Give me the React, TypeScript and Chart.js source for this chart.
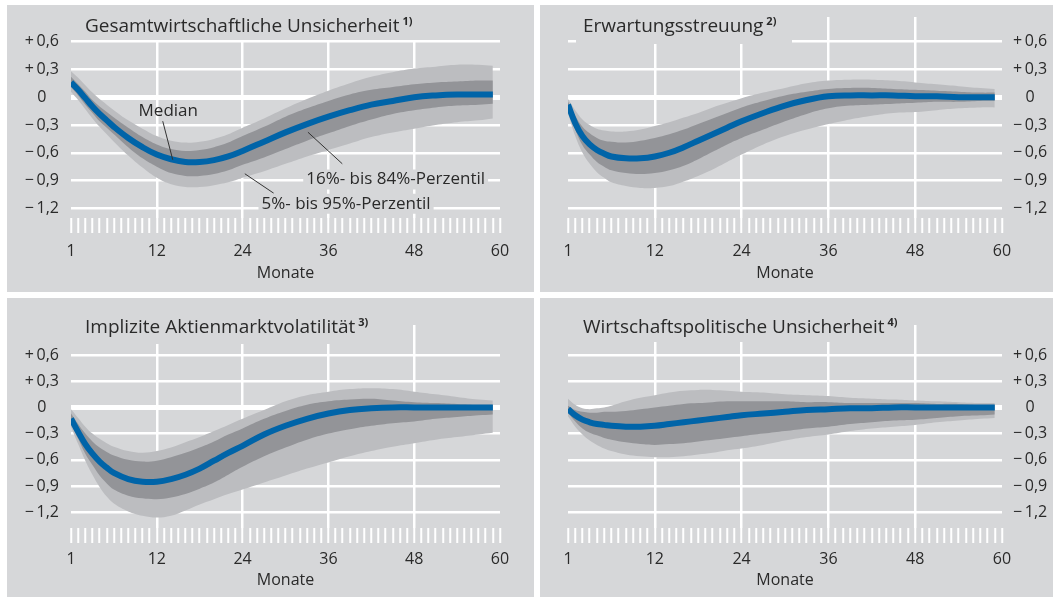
import React, { useEffect, useRef } from "react";
import { Chart, registerables } from "chart.js";

Chart.register(...registerables);

const FONT = "'Open Sans', 'Noto Sans', sans-serif";
const PANEL_BG = "#d6d7d9";
const LIGHT = "#bcbdc0";
const DARK = "#939498";
const BLUE = "#0064a8";
const TEXT = "#2a2a2a";

// horizon (months after shock, axis position 0 = month "1")
const steps = [0, 1, 2, 3, 4, 5, 6, 8, 10, 12, 14, 16, 18, 20, 22, 24, 27, 30, 33, 36, 39, 42, 45, 48, 51, 54, 57, 59];

const xTickValues = [0, 12, 24, 36, 48, 60];
const xTickLabels = ["1", "12", "24", "36", "48", "60"];
const yTickValues = [-1.2, -0.9, -0.6, -0.3, 0, 0.3, 0.6];
const yTickLabels = ["\u2212\u20091,2", "\u2212\u20090,9", "\u2212\u20090,6", "\u2212\u20090,3", "0", "+\u20090,3", "+\u20090,6"];

// 1) Gesamtwirtschaftliche Unsicherheit
const gesamtP95 = [0.28, 0.21, 0.13, 0.05, -0.02, -0.08, -0.14, -0.25, -0.34, -0.42, -0.47, -0.49, -0.48, -0.45, -0.40, -0.33, -0.23, -0.12, -0.02, 0.07, 0.15, 0.22, 0.27, 0.31, 0.33, 0.35, 0.35, 0.34];
const gesamtP84 = [0.22, 0.14, 0.06, -0.03, -0.10, -0.16, -0.22, -0.33, -0.43, -0.51, -0.56, -0.58, -0.57, -0.54, -0.49, -0.42, -0.32, -0.21, -0.12, -0.04, 0.03, 0.08, 0.11, 0.14, 0.16, 0.17, 0.18, 0.18];
const gesamtMedian = [0.16, 0.08, -0.01, -0.10, -0.18, -0.25, -0.32, -0.44, -0.54, -0.62, -0.67, -0.70, -0.70, -0.68, -0.64, -0.58, -0.48, -0.38, -0.29, -0.21, -0.14, -0.08, -0.04, 0.0, 0.02, 0.03, 0.03, 0.03];
const gesamtP16 = [0.11, 0.02, -0.08, -0.17, -0.26, -0.33, -0.40, -0.54, -0.66, -0.75, -0.82, -0.85, -0.85, -0.83, -0.79, -0.73, -0.65, -0.56, -0.47, -0.39, -0.31, -0.24, -0.18, -0.14, -0.11, -0.09, -0.08, -0.07];
const gesamtP5 = [0.06, -0.03, -0.13, -0.23, -0.32, -0.40, -0.48, -0.63, -0.76, -0.87, -0.94, -0.97, -0.97, -0.95, -0.92, -0.87, -0.80, -0.72, -0.64, -0.57, -0.50, -0.43, -0.38, -0.34, -0.30, -0.27, -0.25, -0.23];

// 2) Erwartungsstreuung
const streuP95 = [-0.02, -0.14, -0.24, -0.30, -0.34, -0.36, -0.37, -0.37, -0.35, -0.31, -0.27, -0.22, -0.17, -0.11, -0.06, -0.01, 0.05, 0.10, 0.15, 0.18, 0.19, 0.19, 0.18, 0.16, 0.14, 0.12, 0.10, 0.09];
const streuP84 = [-0.05, -0.20, -0.32, -0.39, -0.44, -0.47, -0.48, -0.49, -0.47, -0.44, -0.40, -0.35, -0.29, -0.23, -0.17, -0.11, -0.04, 0.02, 0.06, 0.09, 0.10, 0.10, 0.09, 0.08, 0.07, 0.06, 0.05, 0.05];
const streuMedian = [-0.08, -0.28, -0.42, -0.51, -0.57, -0.61, -0.64, -0.66, -0.66, -0.64, -0.60, -0.54, -0.47, -0.40, -0.33, -0.26, -0.17, -0.09, -0.03, 0.01, 0.02, 0.02, 0.02, 0.01, 0.01, 0.0, 0.0, 0.0];
const streuP16 = [-0.13, -0.35, -0.52, -0.62, -0.70, -0.75, -0.79, -0.82, -0.83, -0.82, -0.79, -0.74, -0.67, -0.59, -0.51, -0.44, -0.35, -0.26, -0.18, -0.12, -0.09, -0.08, -0.07, -0.06, -0.05, -0.05, -0.04, -0.04];
const streuP5 = [-0.17, -0.42, -0.60, -0.72, -0.81, -0.87, -0.92, -0.96, -0.98, -0.98, -0.96, -0.91, -0.85, -0.78, -0.70, -0.62, -0.51, -0.42, -0.35, -0.29, -0.24, -0.20, -0.17, -0.16, -0.14, -0.12, -0.11, -0.11];

// 3) Implizite Aktienmarktvolatilität
const volaP95 = [-0.02, -0.12, -0.22, -0.30, -0.36, -0.41, -0.45, -0.50, -0.52, -0.50, -0.46, -0.40, -0.34, -0.27, -0.20, -0.13, -0.03, 0.07, 0.14, 0.18, 0.21, 0.22, 0.21, 0.18, 0.15, 0.12, 0.09, 0.08];
const volaP84 = [-0.07, -0.19, -0.30, -0.39, -0.46, -0.51, -0.55, -0.60, -0.62, -0.61, -0.57, -0.52, -0.46, -0.39, -0.31, -0.24, -0.13, -0.04, 0.03, 0.07, 0.09, 0.10, 0.08, 0.06, 0.05, 0.04, 0.03, 0.03];
const volaMedian = [-0.13, -0.28, -0.42, -0.53, -0.62, -0.69, -0.75, -0.82, -0.85, -0.85, -0.82, -0.77, -0.70, -0.61, -0.52, -0.44, -0.31, -0.21, -0.13, -0.07, -0.03, -0.01, 0.0, 0.0, 0.0, 0.0, 0.0, 0.0];
const volaP16 = [-0.18, -0.36, -0.53, -0.66, -0.78, -0.87, -0.94, -1.01, -1.04, -1.05, -1.03, -0.99, -0.93, -0.86, -0.77, -0.68, -0.56, -0.46, -0.37, -0.30, -0.25, -0.21, -0.18, -0.16, -0.13, -0.11, -0.09, -0.08];
const volaP5 = [-0.22, -0.42, -0.61, -0.77, -0.91, -1.02, -1.10, -1.19, -1.24, -1.26, -1.24, -1.18, -1.11, -1.05, -0.99, -0.94, -0.86, -0.78, -0.70, -0.63, -0.56, -0.50, -0.45, -0.41, -0.37, -0.34, -0.31, -0.29];

// 4) Wirtschaftspolitische Unsicherheit
const politP95 = [0.10, 0.03, -0.01, -0.02, -0.01, 0.0, 0.02, 0.07, 0.11, 0.14, 0.17, 0.19, 0.20, 0.20, 0.19, 0.18, 0.17, 0.15, 0.14, 0.13, 0.11, 0.10, 0.09, 0.08, 0.07, 0.06, 0.05, 0.05];
const politP84 = [0.02, -0.03, -0.05, -0.06, -0.06, -0.05, -0.05, -0.04, -0.02, 0.0, 0.02, 0.04, 0.05, 0.06, 0.07, 0.07, 0.07, 0.07, 0.06, 0.06, 0.05, 0.05, 0.05, 0.05, 0.04, 0.04, 0.03, 0.03];
const politMedian = [-0.02, -0.09, -0.14, -0.17, -0.19, -0.20, -0.21, -0.22, -0.22, -0.21, -0.19, -0.17, -0.15, -0.13, -0.11, -0.09, -0.07, -0.05, -0.03, -0.02, -0.01, -0.01, 0.0, 0.0, 0.0, 0.0, 0.0, 0.0];
const politP16 = [-0.06, -0.16, -0.24, -0.29, -0.32, -0.35, -0.37, -0.40, -0.42, -0.43, -0.42, -0.41, -0.39, -0.37, -0.35, -0.33, -0.30, -0.27, -0.24, -0.22, -0.19, -0.17, -0.15, -0.14, -0.12, -0.10, -0.09, -0.08];
const politP5 = [-0.10, -0.22, -0.31, -0.38, -0.43, -0.47, -0.50, -0.54, -0.56, -0.57, -0.57, -0.56, -0.54, -0.52, -0.49, -0.47, -0.43, -0.38, -0.34, -0.31, -0.27, -0.24, -0.22, -0.20, -0.17, -0.15, -0.13, -0.12];

// annotations of the first panel (data coordinates)
const notes1 = [
  { text: "Median", x: 13.6, y: -0.155, align: "center", box: false, line: [12.83, -0.259, 14.23, -0.676] },
  { text: "16%- bis 84%-Perzentil", x: 32.9, y: -0.889, align: "left", box: true, line: [33.14, -0.378, 37.94, -0.719] },
  { text: "5%- bis 95%-Perzentil", x: 26.64, y: -1.151, align: "left", box: true, line: [24.31, -0.827, 28.35, -1.037] },
];

const monthMarks = Array.from({ length: 61 }, (_, i) => i);

const toXY = (arr: number[]) => arr.map((v, i) => ({ x: steps[i], y: v }));

const decorPlugin = {
  id: "decor",
  afterDraw(chart: any) {
    const o = chart.options.plugins.decor;
    if (!o) return;
    const ctx = chart.ctx as CanvasRenderingContext2D;
    ctx.save();
    ctx.font = `19px ${FONT}`;
    const w = ctx.measureText(o.title).width;
    ctx.font = `bold 11px ${FONT}`;
    const sw = ctx.measureText(o.sup).width;
    const x0 = o.titleX - 7;
    const x1 = Math.max(o.titleX + w + 3 + sw + 5, o.boxRight);
    ctx.fillStyle = PANEL_BG;
    ctx.fillRect(x0, 0, x1 - x0, o.boxBottom);
    ctx.fillStyle = TEXT;
    ctx.textAlign = "left";
    ctx.textBaseline = "alphabetic";
    ctx.font = `19px ${FONT}`;
    ctx.fillText(o.title, o.titleX, o.titleBaseline);
    ctx.font = `bold 11px ${FONT}`;
    ctx.fillText(o.sup, o.titleX + w + 3, o.titleBaseline - 7);

    const xs = chart.scales.x;
    const ys = chart.scales.y;
    for (const n of o.notes || []) {
      const [a, b, c, d] = n.line;
      ctx.strokeStyle = "#333";
      ctx.lineWidth = 1;
      ctx.beginPath();
      ctx.moveTo(xs.getPixelForValue(a), ys.getPixelForValue(b));
      ctx.lineTo(xs.getPixelForValue(c), ys.getPixelForValue(d));
      ctx.stroke();
      ctx.font = `17px ${FONT}`;
      const tw = ctx.measureText(n.text).width;
      const px = xs.getPixelForValue(n.x);
      const py = ys.getPixelForValue(n.y);
      const left = n.align === "center" ? px - tw / 2 : px;
      if (n.box) {
        ctx.fillStyle = PANEL_BG;
        ctx.fillRect(left - 3, py - 10, tw + 6, 20);
      }
      ctx.fillStyle = TEXT;
      ctx.textAlign = "left";
      ctx.textBaseline = "middle";
      ctx.fillText(n.text, left, py);
    }
    ctx.restore();
  },
};

type PanelCfg = {
  left: number; top: number; width: number; height: number;
  side: "left" | "right";
  padTop: number; padLeft: number; padRight: number;
  xAxisH: number; yAxisW: number; yMin: number; yMax: number;
  tickPad: number; titlePadBottom: number; yTickPad: number;
  title: string; sup: string; titleX: number; titleBaseline: number;
  boxBottom: number; boxRight: number;
  p95: number[]; p84: number[]; med: number[]; p16: number[]; p5: number[];
  notes: any[];
};

const panels: PanelCfg[] = [
  {
    left: 7, top: 5, width: 527, height: 287, side: "left",
    padTop: 12, padLeft: 0, padRight: 34, xAxisH: 74, yAxisW: 64, yMin: -1.305, yMax: 0.867,
    tickPad: 9, titlePadBottom: 9, yTickPad: 12,
    title: "Gesamtwirtschaftliche Unsicherheit", sup: "1)", titleX: 78, titleBaseline: 27,
    boxBottom: 35, boxRight: 423,
    p95: gesamtP95, p84: gesamtP84, med: gesamtMedian, p16: gesamtP16, p5: gesamtP5, notes: notes1,
  },
  {
    left: 540, top: 5, width: 513, height: 287, side: "right",
    padTop: 12, padLeft: 28, padRight: 0, xAxisH: 74, yAxisW: 51, yMin: -1.305, yMax: 0.867,
    tickPad: 9, titlePadBottom: 9, yTickPad: 11,
    title: "Erwartungsstreuung", sup: "2)", titleX: 43, titleBaseline: 27,
    boxBottom: 39, boxRight: 252,
    p95: streuP95, p84: streuP84, med: streuMedian, p16: streuP16, p5: streuP5, notes: [],
  },
  {
    left: 7, top: 298, width: 527, height: 299, side: "left",
    padTop: 27, padLeft: 0, padRight: 34, xAxisH: 69, yAxisW: 64, yMin: -1.38, yMax: 0.943,
    tickPad: 7, titlePadBottom: 7, yTickPad: 12,
    title: "Implizite Aktienmarktvolatilität", sup: "3)", titleX: 78, titleBaseline: 35,
    boxBottom: 46, boxRight: 378,
    p95: volaP95, p84: volaP84, med: volaMedian, p16: volaP16, p5: volaP5, notes: [],
  },
  {
    left: 540, top: 298, width: 513, height: 299, side: "right",
    padTop: 27, padLeft: 28, padRight: 0, xAxisH: 69, yAxisW: 51, yMin: -1.38, yMax: 0.943,
    tickPad: 7, titlePadBottom: 7, yTickPad: 11,
    title: "Wirtschaftspolitische Unsicherheit", sup: "4)", titleX: 43, titleBaseline: 35,
    boxBottom: 44, boxRight: 372,
    p95: politP95, p84: politP84, med: politMedian, p16: politP16, p5: politP5, notes: [],
  },
];

function Panel({ cfg }: { cfg: PanelCfg }) {
  const ref = useRef<HTMLCanvasElement>(null);
  useEffect(() => {
    const band = (data: number[], fill: any, color: string) => ({
      data: toXY(data),
      borderColor: "transparent",
      borderWidth: 0,
      pointRadius: 0,
      fill,
      backgroundColor: color,
      tension: 0.4,
    });
    const chart = new Chart(ref.current as HTMLCanvasElement, {
      type: "line",
      data: {
        datasets: [
          {
            label: "Median",
            data: toXY(cfg.med),
            borderColor: BLUE,
            borderWidth: 6,
            pointRadius: 0,
            fill: false,
            tension: 0.4,
          },
          band(cfg.p16, false, DARK),
          band(cfg.p84, "-1", DARK),
          band(cfg.p5, false, LIGHT),
          band(cfg.p95, "-1", LIGHT),
        ] as any,
      },
      options: {
        animation: false,
        responsive: false,
        devicePixelRatio: 1,
        layout: { padding: { top: cfg.padTop, left: cfg.padLeft, right: cfg.padRight, bottom: 0 } },
        plugins: {
          legend: { display: false },
          tooltip: { enabled: false },
          decor: {
            title: cfg.title, sup: cfg.sup, titleX: cfg.titleX, titleBaseline: cfg.titleBaseline,
            boxBottom: cfg.boxBottom, boxRight: cfg.boxRight, notes: cfg.notes,
          },
        } as any,
        scales: {
          x: {
            type: "linear",
            position: "bottom",
            min: 0,
            max: 60,
            afterBuildTicks: (s: any) => { s.ticks = monthMarks.map((v) => ({ value: v })); },
            afterFit: (s: any) => {
              s.height = cfg.xAxisH;
              s.paddingLeft = 0;
              s.paddingRight = 0;
            },
            grid: {
              color: (c: any) => {
                const v = c.tick ? c.tick.value : -1;
                return v % 12 === 0 && v > 0 && v < 60 ? "#ffffff" : "rgba(0,0,0,0)";
              },
              lineWidth: 2.5,
              drawTicks: true,
              tickLength: 15,
              tickColor: "#ffffff",
              tickWidth: 2,
            },
            border: { display: false },
            ticks: {
              autoSkip: false,
              maxRotation: 0,
              padding: cfg.tickPad,
              color: TEXT,
              font: { family: FONT, size: 16 },
              callback: (v: any) => {
                const i = xTickValues.indexOf(Number(v));
                return i >= 0 ? xTickLabels[i] : "";
              },
            },
            title: {
              display: true,
              text: "Monate",
              color: TEXT,
              font: { family: FONT, size: 16 },
              padding: { top: 0, bottom: cfg.titlePadBottom },
            },
          },
          y: {
            type: "linear",
            position: cfg.side,
            min: cfg.yMin,
            max: cfg.yMax,
            bounds: "data",
            afterBuildTicks: (s: any) => { s.ticks = yTickValues.map((v) => ({ value: v })); },
            afterFit: (s: any) => {
              s.width = cfg.yAxisW;
              s.paddingTop = 0;
              s.paddingBottom = 0;
            },
            grid: {
              color: "#ffffff",
              lineWidth: (c: any) => (c.tick && Math.abs(c.tick.value) < 1e-9 ? 5 : 2.5),
              drawTicks: false,
            },
            border: { display: false },
            ticks: {
              crossAlign: "center",
              padding: cfg.yTickPad,
              color: TEXT,
              font: { family: FONT, size: 16 },
              callback: (v: any) => {
                const i = yTickValues.findIndex((t) => Math.abs(t - Number(v)) < 1e-6);
                return i >= 0 ? yTickLabels[i] : "";
              },
            },
          },
        } as any,
      },
      plugins: [decorPlugin],
    });
    return () => chart.destroy();
  }, [cfg]);
  return (
    <div
      style={{
        position: "absolute",
        left: cfg.left,
        top: cfg.top,
        width: cfg.width,
        height: cfg.height,
        background: PANEL_BG,
      }}
    >
      <canvas
        ref={ref}
        width={cfg.width}
        height={cfg.height}
        style={{ display: "block", width: cfg.width, height: cfg.height }}
      />
    </div>
  );
}

export default function App() {
  return (
    <div style={{ position: "absolute", left: 0, top: 0, width: 1053, height: 597, background: "#ffffff" }}>
      {panels.map((p, i) => (
        <Panel key={i} cfg={p} />
      ))}
    </div>
  );
}
